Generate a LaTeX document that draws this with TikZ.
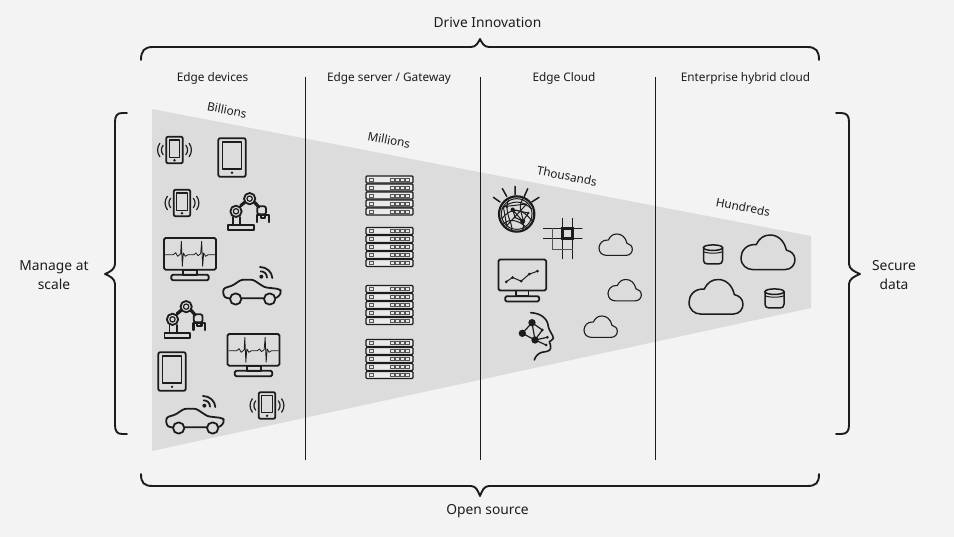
\documentclass[tikz,border=0pt]{standalone}
\usepackage{fontspec}
\setmainfont{Noto Sans}
\definecolor{bg}{HTML}{F3F3F3}
\definecolor{wedge}{HTML}{DCDCDC}
\definecolor{ink}{HTML}{1C1C1C}
\definecolor{soft}{HTML}{555555}
\tikzset{
  x=1pt,y=-1pt,
  ic/.style={draw=ink,line width=1.8pt,line join=round,line cap=round},
  thin ic/.style={draw=ink,line width=1.2pt,line join=round,line cap=round},
  lab/.style={font=\fontsize{11.8}{14}\selectfont,text=ink,inner sep=0pt,align=center},
  side/.style={font=\fontsize{13.8}{19}\selectfont,text=ink,inner sep=0pt,align=center},
  count/.style={font=\fontsize{11.8}{14}\selectfont,text=ink,inner sep=0pt,rotate=-11},
  brace/.style={draw=ink,line width=1.9pt,line join=round,line cap=round},
  rule/.style={draw=ink,line width=1pt},
  phone/.pic={
    \draw[ic,rounded corners=2pt] (-25,-40) rectangle (25,40);
    \draw[thin ic] (-16,-30) rectangle (16,22);
    \fill[ink] (0,31) circle (4);
    \foreach \s in {-1,1}{
      \draw[thin ic] (\s*34,-14) .. controls (\s*41,-6) and (\s*41,6) .. (\s*34,14);
      \draw[thin ic] (\s*44,-20) .. controls (\s*53,-8) and (\s*53,8) .. (\s*44,20);
    }
  },
  tablet/.pic={
    \draw[ic,rounded corners=2pt] (-41,-58) rectangle (41,58);
    \draw[ic,line width=1.5pt] (-29,-46) rectangle (29,34);
    \fill[ink] (0,46) circle (4);
  },
  robot/.pic={
    \draw[ic] (0,97) rectangle (77,112);
    \draw[ic] (15,97) -- (15,72) (37,97) -- (37,72);
    \draw[ic,line width=3.2pt] (38,38) -- (50,28);
    \draw[ic,line width=3.2pt] (80,28) -- (92,42);
    \draw[ic] (24,55) circle (17);
    \draw[thin ic] (24,55) circle (8);
    \draw[ic] (65,17) circle (17);
    \draw[thin ic] (65,17) circle (8);
    \draw[ic,rounded corners=2pt] (88,40) rectangle (114,64);
    \draw[ic,line width=2.2pt] (87,87) -- (87,65) -- (122,65) -- (122,87) (98,65) -- (98,76) -- (111,76) -- (111,65);
  },
  monitor/.pic={
    \draw[ic,rounded corners=1.5pt] (0,0) rectangle (156,95);
    \draw[ic] (58,95) rectangle (100,110);
    \draw[ic,rounded corners=1.5pt] (22,110) rectangle (134,127);
    \draw[draw=ink,line width=.8pt,line join=round] (3,50) -- (28,50) -- (35,44) -- (41,55) -- (47,50) -- (50,47) -- (52,10) -- (55,85) -- (58,45) -- (64,55) -- (72,50) -- (90,50) -- (96,45) -- (102,53) -- (110,47) -- (113,10) -- (116,85) -- (119,45) -- (125,55) -- (132,50) -- (153,50);
  },
  car/.pic={
    \draw[ic,rounded corners=2.5pt] (21,58) -- (10,58) -- (1,50) -- (1,28) -- (28,20) -- (55,2) -- (90,2) -- (125,25) -- (168,30) -- (175,36) -- (170,50) -- (158,58) -- (122,58) -- (56,58);
    \draw[ic,fill=wedge] (38,60) circle (17);
    \draw[ic,fill=wedge] (140,60) circle (17);
    \fill[ink] (115,-7) circle (6);
    \draw[ic] (113,-23) .. controls (124,-23) and (132,-15) .. (132,-4);
    \draw[ic] (111,-36) .. controls (130,-36) and (147,-22) .. (148,-3);
  },
  serverunit/.pic={
    \draw[draw=ink,line width=1.3pt,fill=bg!60!wedge,rounded corners=1pt] (0,0) rectangle (47,7);
    \draw[draw=soft,line width=.7pt] (3.5,2) rectangle (7.5,5);
    \foreach \u in {24.5,29.5,34.5,39.5}{\draw[draw=soft,line width=.7pt] (\u,2) rectangle (\u+3.8,5);}
  },
  serverstack/.pic={
    \foreach \v in {0,8,16,24,32}{\pic at (0,\v) {serverunit};}
  },
  cloud/.pic={
    \draw[draw=ink,line width=\cloudw,line join=round] (22,64) -- (82,64) .. controls (94,64) and (100,54) .. (100,46) .. controls (100,36) and (93,30) .. (84,28) .. controls (80,10) and (68,0) .. (54,0) .. controls (42,0) and (34,6) .. (28,18) .. controls (10,16) and (0,30) .. (0,42) .. controls (0,56) and (10,64) .. (22,64) -- cycle;
  },
  dbicon/.pic={
    \draw[draw=ink,line width=1.5pt,line cap=round] (0,8) -- (0,46) .. controls (0,53) and (5,57) .. (12,57) -- (45,57) .. controls (52,57) and (57,53) .. (57,46) -- (57,8);
    \draw[draw=ink,line width=1.5pt] (0,8) .. controls (0,-3) and (57,-3) .. (57,8) .. controls (57,19) and (0,19) .. (0,8) -- cycle;
    \draw[draw=ink,line width=1pt] (0,20) .. controls (10,26) and (47,26) .. (57,20);
  },
  globe/.pic={
    \draw[draw=ink,line width=2.2pt] (0,0) circle (53);
    \draw[draw=ink,line width=1pt] (0,0) circle (46);
    \draw[ic,line width=1.5pt] (-5,-83) -- (-5,-58) (-43,-76) -- (-30,-53) (33,-76) -- (23,-53) (-70,-50) -- (-50,-36) (67,-50) -- (45,-36);
    \draw[draw=ink,line width=1pt] (-45,-15) .. controls (-15,-45) and (20,-40) .. (45,-15);
    \draw[draw=ink,line width=1pt] (-45,15) .. controls (-15,-25) and (20,-15) .. (45,20);
    \draw[draw=ink,line width=1pt] (-40,30) .. controls (-15,5) and (20,30) .. (30,42);
    \draw[draw=ink,line width=1pt] (-25,-42) .. controls (-40,-5) and (-10,30) .. (-15,48);
    \draw[draw=ink,line width=1pt] (20,-48) .. controls (-5,-15) and (30,10) .. (18,50);
    \draw[draw=ink,line width=1pt] (-12,-13) -- (18,22) -- (35,-3) -- (-12,-13) -- (-5,10) -- (18,22);
    \draw[draw=ink,line width=1pt] (-40,-22) -- (30,-30) -- (-30,35) -- cycle;
    \fill[ink] (-12,-13) circle (6.5) (18,22) circle (7.5) (35,-3) circle (4) (-5,10) circle (4) (-30,-20) circle (3);
  },
  gridicon/.pic={
    \draw[draw=ink,line width=1.4pt,line cap=round] (0,-60) -- (0,60) (30,-60) -- (30,60) (-57,-30) -- (58,-30) (-57,0) -- (58,0);
    \draw[draw=soft,line width=1.3pt] (-30,-30) -- (-30,32) -- (30,32);
    \draw[draw=ink,line width=2.2pt] (0,-30) rectangle (30,0);
  },
  chart/.pic={
    \draw[ic,rounded corners=1.5pt] (0,0) rectangle (143,93);
    \draw[ic] (53,93) rectangle (90,108);
    \draw[ic,rounded corners=1.5pt] (20,110) rectangle (122,126);
    \draw[draw=ink,line width=1pt] (23,67) -- (42,54) -- (68,65) -- (92,44) -- (117,35);
    \fill[ink] (23,67) circle (4.5) (42,54) circle (4.5) (68,65) circle (4.5) (92,44) circle (4.5) (117,35) circle (4.5);
  },
  face/.pic={
    \draw[draw=ink,line width=1.6pt,line cap=round,line join=round] (137,413) .. controls (170,415) and (188,432) .. (190,455) .. controls (192,468) and (205,480) .. (205,490) .. controls (204,496) and (195,497) .. (193,500) .. controls (193,505) and (200,512) .. (197,520) .. controls (195,530) and (180,530) .. (170,532) .. controls (160,535) and (150,545) .. (148,555);
    \draw[draw=ink,line width=1.2pt] (112,475) -- (141,443) -- (150,495) -- (112,475) (150,495) -- (172,465) (150,495) -- (187,487) (150,495) -- (183,510) (141,443) -- (172,465);
    \fill[ink] (141,443) circle (11) (112,475) circle (11) (150,495) circle (11) (172,465) circle (4.5) (187,487) circle (4.5) (183,510) circle (4.5);
  }
}
\newcommand{\cloudw}{1.1pt}
\begin{document}
\begin{tikzpicture}
\useasboundingbox (0,0) rectangle (954,537);
\fill[bg] (0,0) rectangle (954,537);
\fill[wedge] (152,109) -- (811,236) -- (811,308) -- (152,451) -- cycle;

% dividers
\draw[rule] (305,77) -- (305,460);
\draw[rule] (480,77) -- (480,460);
\draw[rule] (655,77) -- (655,460);

% braces
\draw[brace] (141,60) .. controls (141,51) and (144,47) .. (153,47) -- (471,47) .. controls (476,47) and (478,43) .. (480,39) .. controls (482,43) and (484,47) .. (489,47) -- (807,47) .. controls (816,47) and (819,51) .. (819,60);
\draw[brace] (141,474) .. controls (141,483) and (144,486) .. (153,486) -- (471,486) .. controls (476,486) and (478,491) .. (480,496) .. controls (482,491) and (484,486) .. (489,486) -- (807,486) .. controls (816,486) and (819,483) .. (819,474);
\draw[brace] (127,113) -- (122,113) .. controls (117,113) and (115,116) .. (115,122) -- (115,264) .. controls (115,269) and (110,272) .. (105,274) .. controls (110,276) and (115,279) .. (115,284) -- (115,425) .. controls (115,431) and (117,434) .. (122,434) -- (127,434);
\draw[brace] (836,113) -- (841,113) .. controls (847,113) and (849,116) .. (849,122) -- (849,264) .. controls (849,269) and (855,272) .. (860,274) .. controls (855,276) and (849,279) .. (849,284) -- (849,425) .. controls (849,431) and (847,434) .. (841,434) -- (836,434);

% texts
\node[side] (drive) at (487.5,22) {Drive Innovation};
\node[side] (open) at (487.5,511.5) {Open source};
\node[side] (manage) at (54,275) {Manage at\\scale};
\node[side] (secure) at (894,275) {Secure\\data};
\node[lab] (h1) at (212.5,78.5) {Edge devices};
\node[lab] (h2) at (389,78.5) {Edge server / Gateway};
\node[lab] (h3) at (564,78.5) {Edge Cloud};
\node[lab] (h4) at (745.5,78.5) {Enterprise hybrid cloud};
\node[count] (c1) at (227,110) {Billions};
\node[count] (c2) at (389,140) {Millions};
\node[count] (c3) at (567,176) {Thousands};
\node[count] (c4) at (743,207) {Hundreds};

% edge devices
\begin{scope}[every pic/.style={scale=1/3}]
\pic at (174.5,150) {phone};
\pic at (182,203) {phone};
\pic at (267,405.5) {phone};
\pic at (232,157.5) {tablet};
\pic at (172,371.5) {tablet};
\pic at (228,193) {robot};
\pic at (164.5,301) {robot};
\pic at (164,238) {monitor};
\pic at (227.5,334) {monitor};
\pic at (223,279) {car};
\pic at (166,408) {car};
% edge cloud
\pic at (516.7,214) {globe};
\pic at (562.5,238.5) {gridicon};
\pic at (498.5,259.5) {chart};
\pic at (485,175) {face};
\pic at (599,234) {cloud};
\pic at (608,279.5) {cloud};
\pic at (584,316) {cloud};
\pic at (703.5,245) {dbicon};
\pic at (765,289) {dbicon};
\end{scope}
\renewcommand{\cloudw}{1.5pt}
\pic[scale=.54] at (741,235) {cloud};
\pic[scale=.54] at (689,279.5) {cloud};

% servers
\pic at (366,176) {serverstack};
\pic at (366,227.5) {serverstack};
\pic at (366,285.5) {serverstack};
\pic at (366,339.5) {serverstack};
\end{tikzpicture}
\end{document}
